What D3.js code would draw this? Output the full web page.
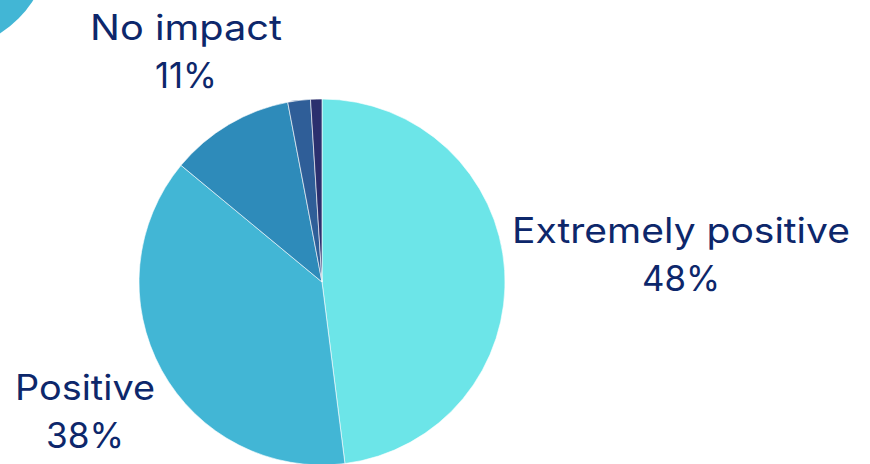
<!DOCTYPE html>
<html><head><meta charset="utf-8">
<script src="https://cdn.jsdelivr.net/npm/d3@7"></script>
<style>html,body{margin:0;padding:0;background:#fff;overflow:hidden}</style>
</head><body>
<svg id="chart" width="870" height="464"></svg>
<script>
const categories = ["Extremely positive", "Positive", "No impact", "Negative", "Extremely negative"];
const values = [48, 38, 11, 2, 1];
const colors = ["#6ce5e8", "#42b6d5", "#2e8bba", "#2f5e98", "#2b2f6e"];
const labelText = ["Extremely positive", "Positive", "No impact", null, null];

const svg = d3.select("#chart");
const cx = 322, cy = 282, R = 183;

// decorative corner circle
svg.append("circle").attr("cx", -60).attr("cy", -60).attr("r", 111).attr("fill", "#42b6d5");

const pie = d3.pie().sort(null).value(d => d);
const arc = d3.arc().innerRadius(0).outerRadius(R);
const g = svg.append("g").attr("transform", `translate(${cx},${cy})`);
g.selectAll("path").data(pie(values)).join("path")
  .attr("d", arc)
  .attr("fill", (d, i) => colors[i])
  .attr("stroke", "#ffffff").attr("stroke-width", 0.6);

const labelPos = [[681, 243], [85, 400], [186, 40]];
const nameLen = [338, 140, 192];
const pctLen = [78, 78, 62];
const lg = svg.append("g").attr("font-family", "Inter, 'Open Sans', sans-serif")
  .attr("font-size", 35).attr("fill", "#0d276b").attr("text-anchor", "middle");
labelPos.forEach((p, i) => {
  lg.append("text").attr("x", p[0]).attr("y", p[1])
    .attr("textLength", nameLen[i]).attr("lengthAdjust", "spacingAndGlyphs").text(labelText[i]);
  lg.append("text").attr("x", p[0]).attr("y", p[1] + 48)
    .attr("textLength", pctLen[i]).attr("lengthAdjust", "spacingAndGlyphs").text(values[i] + "%");
});
</script>
</body></html>
